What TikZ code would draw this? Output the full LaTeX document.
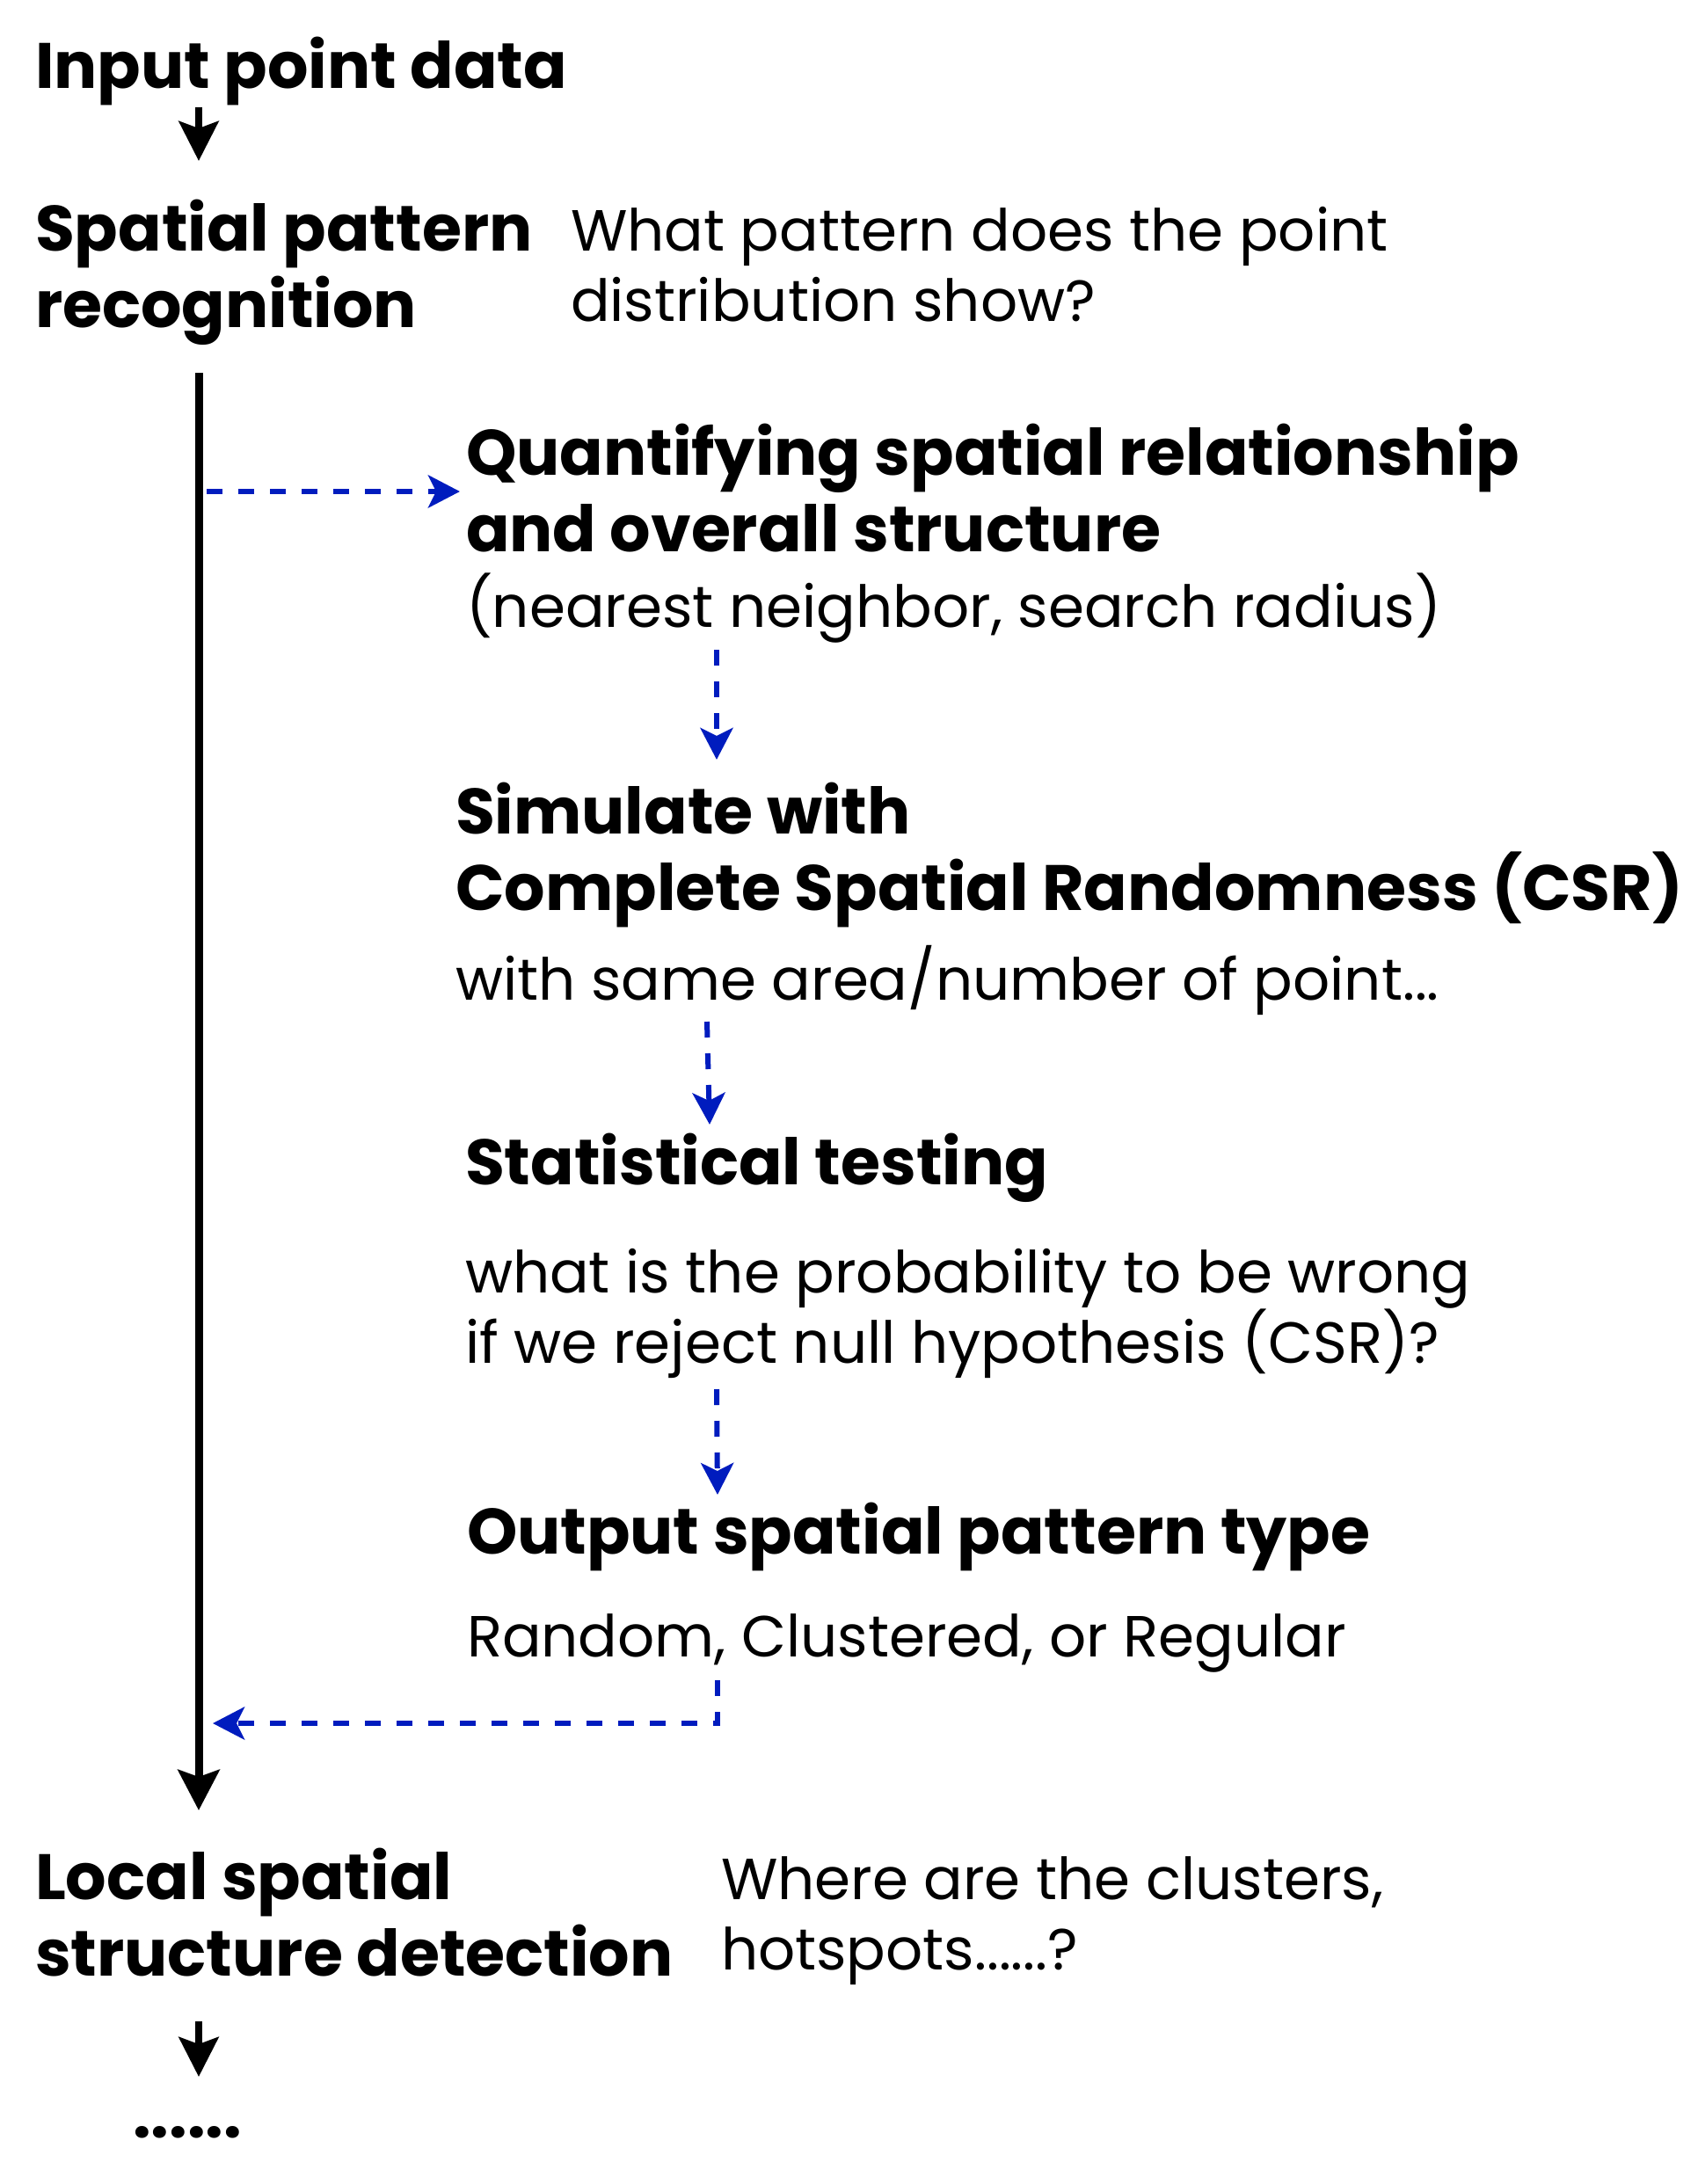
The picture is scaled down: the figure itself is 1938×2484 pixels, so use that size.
\documentclass[tikz,border=0pt]{standalone}
\usepackage{fontspec}
\setmainfont{Poppins}
\usetikzlibrary{arrows.meta}
\definecolor{flowblue}{RGB}{0,28,190}
\begin{document}
\begin{tikzpicture}[x=0.5pt,y=-0.5pt,
  boldtxt/.style={anchor=base west,inner sep=0pt,outer sep=0pt,align=left,
    font=\fontsize{36.5pt}{43.5pt}\selectfont\bfseries},
  regtxt/.style={anchor=base west,inner sep=0pt,outer sep=0pt,align=left,
    font=\fontsize{33pt}{40pt}\selectfont},
  mainarrow/.style={line width=4.5pt,-{Stealth[length=23pt,width=23.5pt,inset=4pt]}},
  smallarrow/.style={line width=4pt,-{Stealth[length=22.5pt,width=22.5pt,inset=4pt]}},
  bluearrow/.style={draw=flowblue,line width=3pt,dash pattern=on 9pt off 9pt,
    -{Stealth[length=18pt,width=18.5pt,inset=4.5pt,fill=flowblue]}},
  blueline/.style={draw=flowblue,line width=3pt,dash pattern=on 9pt off 9pt}
]
\useasboundingbox (0,0) rectangle (1938,2484);

% texts (multi-line nodes are placed at the baseline of their last line)
\node[boldtxt] (inp) at (40,100) {Input point data};
\node[boldtxt] (spr) at (40,372) {Spatial pattern\\recognition};
\node[regtxt] (q1) at (649,365) {What pattern does the point\\distribution show?};
\node[boldtxt] (quant) at (530,627) {Quantifying spatial relationship\\and overall structure};
\node[regtxt] (nn) at (530,713) {(nearest neighbor, search radius)};
\node[boldtxt] (sim) at (518,1035) {Simulate with\\Complete Spatial Randomness (CSR)};
\node[regtxt] (same) at (518,1137) {with same area/number of point...};
\node[boldtxt] (stat) at (529,1347) {Statistical testing};
\node[regtxt] (prob) at (529,1550) {what is the probability to be wrong\\if we reject null hypothesis (CSR)?};
\node[boldtxt] (outp) at (531,1767) {Output spatial pattern type};
\node[regtxt] (rcr) at (531,1884) {Random, Clustered, or Regular};
\node[boldtxt] (loc) at (40,2247) {Local spatial\\structure detection};
\node[regtxt] (where) at (820,2240) {Where are the clusters,\\hotspots......?};
\node[boldtxt,anchor=base] (dots) at (213,2431) {......};

% connector end points
\coordinate (a1s) at (226,122);
\coordinate (a1e) at (226,183);
\coordinate (mls) at (226,424);
\coordinate (mle) at (226,2059);
\coordinate (b1s) at (235,559);
\coordinate (b1e) at (523,559);
\coordinate (b2s) at (815,739);
\coordinate (b2e) at (815,864);
\coordinate (b3s) at (804,1162);
\coordinate (b3e) at (807,1279);
\coordinate (b4s) at (815,1580);
\coordinate (b4e) at (816,1700);
\coordinate (b5s) at (816,1911);
\coordinate (b5c) at (816,1960);
\coordinate (b5e) at (242,1960);
\coordinate (a2s) at (226,2299);
\coordinate (a2e) at (226,2362);

% black arrows
\draw[smallarrow] (a1s) -- (a1e);
\draw[mainarrow] (mls) -- (mle);
\draw[smallarrow] (a2s) -- (a2e);

% blue dashed arrows
\draw[bluearrow] (b1s) -- (b1e);
\draw[bluearrow] (b2s) -- (b2e);
\draw[bluearrow] (b3s) -- (b3e);
\draw[bluearrow] (b4s) -- (b4e);
\draw[bluearrow] (b5s) -- (b5c) -- (b5e);
\end{tikzpicture}
\end{document}
